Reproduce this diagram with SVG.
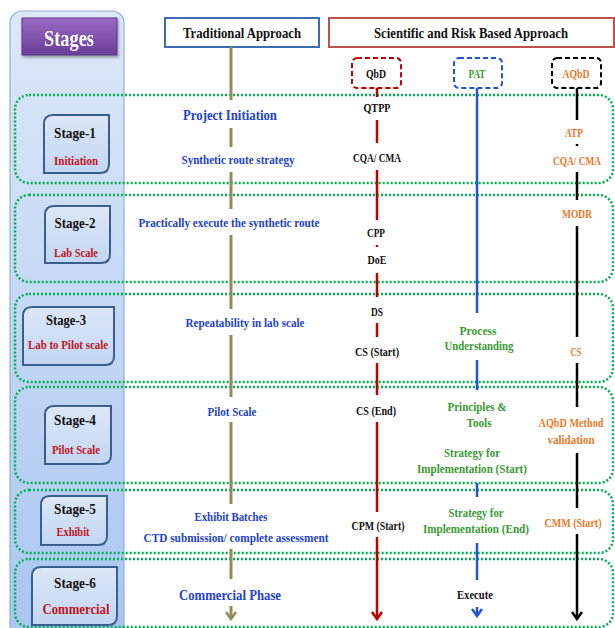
<svg xmlns="http://www.w3.org/2000/svg" width="615" height="628" viewBox="0 0 615 628">
<defs>
<linearGradient id="panelG" x1="0" y1="0" x2="0" y2="1">
<stop offset="0" stop-color="#DDE8F8"/><stop offset="1" stop-color="#A9C6F0"/>
</linearGradient>
<linearGradient id="purpleG" x1="0" y1="0" x2="0" y2="1">
<stop offset="0" stop-color="#9A6CC4"/><stop offset="1" stop-color="#6B3D98"/>
</linearGradient>
<linearGradient id="stageG" x1="0" y1="0" x2="0" y2="1">
<stop offset="0" stop-color="#DCE7F7"/><stop offset="1" stop-color="#C2D6F2"/>
</linearGradient>
<filter id="sh" x="-20%" y="-20%" width="140%" height="150%">
<feDropShadow dx="1" dy="2" stdDeviation="1.5" flood-color="#000" flood-opacity="0.35"/>
</filter>
<marker id="arO" markerUnits="userSpaceOnUse" markerWidth="14" markerHeight="12" refX="7" refY="10" orient="0"><path d="M2,3 L7,10 L12,3" fill="none" stroke="#958A5A" stroke-width="2.5"/></marker>
<marker id="arR" markerUnits="userSpaceOnUse" markerWidth="14" markerHeight="12" refX="7" refY="10" orient="0"><path d="M2,3 L7,10 L12,3" fill="none" stroke="#C00000" stroke-width="2.5"/></marker>
<marker id="arB" markerUnits="userSpaceOnUse" markerWidth="14" markerHeight="12" refX="7" refY="10" orient="0"><path d="M2,3 L7,10 L12,3" fill="none" stroke="#2255D5" stroke-width="2.5"/></marker>
<marker id="arK" markerUnits="userSpaceOnUse" markerWidth="14" markerHeight="12" refX="7" refY="10" orient="0"><path d="M2,3 L7,10 L12,3" fill="none" stroke="#000" stroke-width="2.5"/></marker>
</defs>
<style>
text{font-family:"Liberation Serif","DejaVu Serif",serif;font-weight:bold;text-anchor:middle}
.s{font-size:13px}
.x{font-size:12px}
.m{font-size:15px}
.tb{fill:#2342CC}
.gr{fill:#3A9A35}
.or{fill:#EA7A2C}
.rd{fill:#C0141C}
.bk{fill:#111}
.band{fill:none;stroke:#00B050;stroke-width:2.5;stroke-dasharray:2 2}
.stage{fill:url(#stageG);stroke:#3A5F8C;stroke-width:2}
.lo{stroke:#958A5A;stroke-width:3}
.lr{stroke:#C00000;stroke-width:2.5}
.lb{stroke:#2255D5;stroke-width:2.5}
.lk{stroke:#000;stroke-width:2.5}
</style>
<rect x="0" y="0" width="615" height="628" fill="#fff"/>

<g id="panel">
<rect x="10" y="11" width="114" height="630" rx="12" fill="url(#panelG)" stroke="#8EB0DE" stroke-width="1.2"/>
</g>
<g id="stages-header" filter="url(#sh)">
<rect x="22" y="18" width="95" height="37" fill="url(#purpleG)" stroke="#5E3588" stroke-width="1"/>
<text x="69" y="46" fill="#fff" style="font-size:23px" textLength="50" lengthAdjust="spacingAndGlyphs">Stages</text>
</g>

<g id="bands">
<rect class="band" x="15" y="95" width="598" height="88" rx="14"/>
<rect class="band" x="15" y="195" width="598" height="87" rx="14"/>
<rect class="band" x="15" y="294" width="598" height="88" rx="14"/>
<rect class="band" x="15" y="387" width="598" height="96" rx="14"/>
<rect class="band" x="15" y="490" width="598" height="63" rx="14"/>
<rect class="band" x="15" y="559" width="598" height="68" rx="14"/>
</g>

<g id="trad-header">
<rect x="165" y="18" width="154" height="29" fill="#fff" stroke="#3B6BB0" stroke-width="2"/>
<text x="242" y="38" class="m bk" textLength="118" lengthAdjust="spacingAndGlyphs">Traditional Approach</text>
</g>
<g id="sci-header">
<rect x="329" y="18" width="285" height="29" fill="#fff" stroke="#C0504D" stroke-width="2"/>
<text x="471" y="38" class="m bk" textLength="194" lengthAdjust="spacingAndGlyphs">Scientific and Risk Based Approach</text>
</g>
<g id="qbd">
<rect x="352" y="58" width="49" height="30" rx="5" fill="#fff" stroke="#C00000" stroke-width="2" stroke-dasharray="5 3"/>
<text x="376" y="78" class="s bk" textLength="20" lengthAdjust="spacingAndGlyphs">QbD</text>
</g>
<g id="pat">
<rect x="454" y="58" width="48" height="30" rx="5" fill="#fff" stroke="#2255D5" stroke-width="2" stroke-dasharray="5 3"/>
<text x="477" y="78" class="s gr" textLength="17" lengthAdjust="spacingAndGlyphs">PAT</text>
</g>
<g id="aqbd">
<rect x="552" y="58" width="49" height="30" rx="5" fill="#fff" stroke="#000" stroke-width="2" stroke-dasharray="5 3"/>
<text x="576" y="78" class="s or" textLength="27" lengthAdjust="spacingAndGlyphs">AQbD</text>
</g>

<g id="connectors">
<line class="lo" x1="231" y1="47" x2="231" y2="100"/>
<line class="lo" x1="231" y1="128" x2="231" y2="147"/>
<line class="lo" x1="231" y1="172" x2="231" y2="209"/>
<line class="lo" x1="231" y1="235" x2="231" y2="309"/>
<line class="lo" x1="231" y1="335" x2="231" y2="397"/>
<line class="lo" x1="231" y1="422" x2="231" y2="504"/>
<line class="lo" x1="231" y1="549" x2="231" y2="579"/>
<line class="lo" x1="231" y1="606" x2="231" y2="619" marker-end="url(#arO)"/>

<line class="lr" x1="377" y1="88" x2="377" y2="97"/>
<line class="lr" x1="377" y1="120" x2="377" y2="143"/>
<line class="lr" x1="377" y1="170" x2="377" y2="220"/>
<line class="lr" x1="377" y1="245" x2="377" y2="247"/>
<line class="lr" x1="377" y1="273" x2="377" y2="297"/>
<line class="lr" x1="377" y1="323" x2="377" y2="337"/>
<line class="lr" x1="377" y1="363" x2="377" y2="395"/>
<line class="lr" x1="377" y1="422" x2="377" y2="512"/>
<line class="lr" x1="377" y1="537" x2="377" y2="619" marker-end="url(#arR)"/>

<line class="lb" x1="477" y1="88" x2="477" y2="313"/>
<line class="lb" x1="477" y1="360" x2="477" y2="390"/>
<line class="lb" x1="477" y1="483" x2="477" y2="497"/>
<line class="lb" x1="477" y1="543" x2="477" y2="580"/>
<line class="lb" x1="477" y1="607" x2="477" y2="616" marker-end="url(#arB)"/>

<line class="lk" x1="577" y1="88" x2="577" y2="120"/>
<line class="lk" x1="577" y1="144" x2="577" y2="146"/>
<line class="lk" x1="577" y1="172" x2="577" y2="200"/>
<line class="lk" x1="577" y1="226" x2="577" y2="337"/>
<line class="lk" x1="577" y1="363" x2="577" y2="407"/>
<line class="lk" x1="577" y1="453" x2="577" y2="508"/>
<line class="lk" x1="577" y1="534" x2="577" y2="619" marker-end="url(#arK)"/>
</g>

<g id="stage-1">
<path class="stage" d="M53,115 H109 V164 Q109,173 100,173 H44 V124 Q44,115 53,115 Z"/>
<text x="75" y="138" class="m bk" textLength="42" lengthAdjust="spacingAndGlyphs">Stage-1</text>
<text x="76" y="165" class="s rd" textLength="44" lengthAdjust="spacingAndGlyphs">Initiation</text>
</g>
<g id="stage-2">
<path class="stage" d="M54,206 H110 V254 Q110,263 101,263 H45 V215 Q45,206 54,206 Z"/>
<text x="75" y="228" class="m bk" textLength="41" lengthAdjust="spacingAndGlyphs">Stage-2</text>
<text x="76" y="257" class="s rd" textLength="44" lengthAdjust="spacingAndGlyphs">Lab Scale</text>
</g>
<g id="stage-3">
<path class="stage" d="M32,307 H114 V356 Q114,365 105,365 H23 V316 Q23,307 32,307 Z"/>
<text x="66" y="325" class="m bk" textLength="40" lengthAdjust="spacingAndGlyphs">Stage-3</text>
<text x="68" y="349" class="s rd" textLength="80" lengthAdjust="spacingAndGlyphs">Lab to Pilot scale</text>
</g>
<g id="stage-4">
<path class="stage" d="M54,406 H111 V455 Q111,464 102,464 H45 V415 Q45,406 54,406 Z"/>
<text x="75" y="425" class="m bk" textLength="42" lengthAdjust="spacingAndGlyphs">Stage-4</text>
<text x="76" y="454" class="s rd" textLength="48" lengthAdjust="spacingAndGlyphs">Pilot Scale</text>
</g>
<g id="stage-5">
<path class="stage" d="M50,496 H107 V536 Q107,545 98,545 H41 V505 Q41,496 50,496 Z"/>
<text x="75" y="514" class="m bk" textLength="42" lengthAdjust="spacingAndGlyphs">Stage-5</text>
<text x="73" y="536" class="s rd" textLength="33" lengthAdjust="spacingAndGlyphs">Exhibit</text>
</g>
<g id="stage-6">
<path class="stage" d="M41,567 H117 V616 Q117,625 108,625 H32 V576 Q32,567 41,567 Z"/>
<text x="75" y="588" class="m bk" textLength="42" lengthAdjust="spacingAndGlyphs">Stage-6</text>
<text x="76" y="614" class="m rd" textLength="67" lengthAdjust="spacingAndGlyphs">Commercial</text>
</g>

<g id="traditional">
<text x="230" y="120" class="m tb" textLength="94" lengthAdjust="spacingAndGlyphs">Project Initiation</text>
<text x="238" y="164" class="s tb" textLength="113" lengthAdjust="spacingAndGlyphs">Synthetic route strategy</text>
<text x="229" y="227" class="s tb" textLength="181" lengthAdjust="spacingAndGlyphs">Practically execute the synthetic route</text>
<text x="245" y="327" class="s tb" textLength="119" lengthAdjust="spacingAndGlyphs">Repeatability in lab scale</text>
<text x="232" y="416" class="s tb" textLength="49" lengthAdjust="spacingAndGlyphs">Pilot Scale</text>
<text x="231" y="521" class="s tb" textLength="73" lengthAdjust="spacingAndGlyphs">Exhibit Batches</text>
<text x="236" y="542" class="s tb" textLength="185" lengthAdjust="spacingAndGlyphs">CTD submission/ complete assessment</text>
<text x="230" y="600" class="m tb" textLength="102" lengthAdjust="spacingAndGlyphs">Commercial Phase</text>
</g>

<g id="qbd-items">
<text x="377" y="112" class="s bk" textLength="27" lengthAdjust="spacingAndGlyphs">QTPP</text>
<text x="377" y="162" class="s bk" textLength="48" lengthAdjust="spacingAndGlyphs">CQA/ CMA</text>
<text x="376" y="237" class="s bk" textLength="18" lengthAdjust="spacingAndGlyphs">CPP</text>
<text x="377" y="264" class="s bk" textLength="19" lengthAdjust="spacingAndGlyphs">DoE</text>
<text x="377" y="316" class="s bk" textLength="12" lengthAdjust="spacingAndGlyphs">DS</text>
<text x="377" y="356" class="s bk" textLength="44" lengthAdjust="spacingAndGlyphs">CS (Start)</text>
<text x="376" y="415" class="s bk" textLength="40" lengthAdjust="spacingAndGlyphs">CS (End)</text>
<text x="378" y="530" class="s bk" textLength="53" lengthAdjust="spacingAndGlyphs">CPM (Start)</text>
</g>

<g id="pat-items">
<text x="478" y="335" class="s gr" textLength="37" lengthAdjust="spacingAndGlyphs">Process</text>
<text x="479" y="350" class="s gr" textLength="69" lengthAdjust="spacingAndGlyphs">Understanding</text>
<text x="477" y="411" class="s gr" textLength="59" lengthAdjust="spacingAndGlyphs">Principles &amp;</text>
<text x="479" y="427" class="s gr" textLength="25" lengthAdjust="spacingAndGlyphs">Tools</text>
<text x="472" y="457" class="s gr" textLength="56" lengthAdjust="spacingAndGlyphs">Strategy for</text>
<text x="472" y="473" class="s gr" textLength="110" lengthAdjust="spacingAndGlyphs">Implementation (Start)</text>
<text x="476" y="517" class="s gr" textLength="55" lengthAdjust="spacingAndGlyphs">Strategy for</text>
<text x="476" y="533" class="s gr" textLength="106" lengthAdjust="spacingAndGlyphs">Implementation (End)</text>
<text x="475" y="599" class="s bk" textLength="36" lengthAdjust="spacingAndGlyphs">Execute</text>
</g>

<g id="aqbd-items">
<text x="574" y="137" class="s or" textLength="18" lengthAdjust="spacingAndGlyphs">ATP</text>
<text x="577" y="165" class="x or" textLength="48" lengthAdjust="spacingAndGlyphs">CQA/ CMA</text>
<text x="577" y="218" class="s or" textLength="30" lengthAdjust="spacingAndGlyphs">MODR</text>
<text x="576" y="356" class="s or" textLength="11" lengthAdjust="spacingAndGlyphs">CS</text>
<text x="571" y="427" class="x or" textLength="65" lengthAdjust="spacingAndGlyphs">AQbD Method</text>
<text x="571" y="444" class="x or" textLength="47" lengthAdjust="spacingAndGlyphs">validation</text>
<text x="573" y="527" class="x or" textLength="57" lengthAdjust="spacingAndGlyphs">CMM (Start)</text>
</g>
</svg>
